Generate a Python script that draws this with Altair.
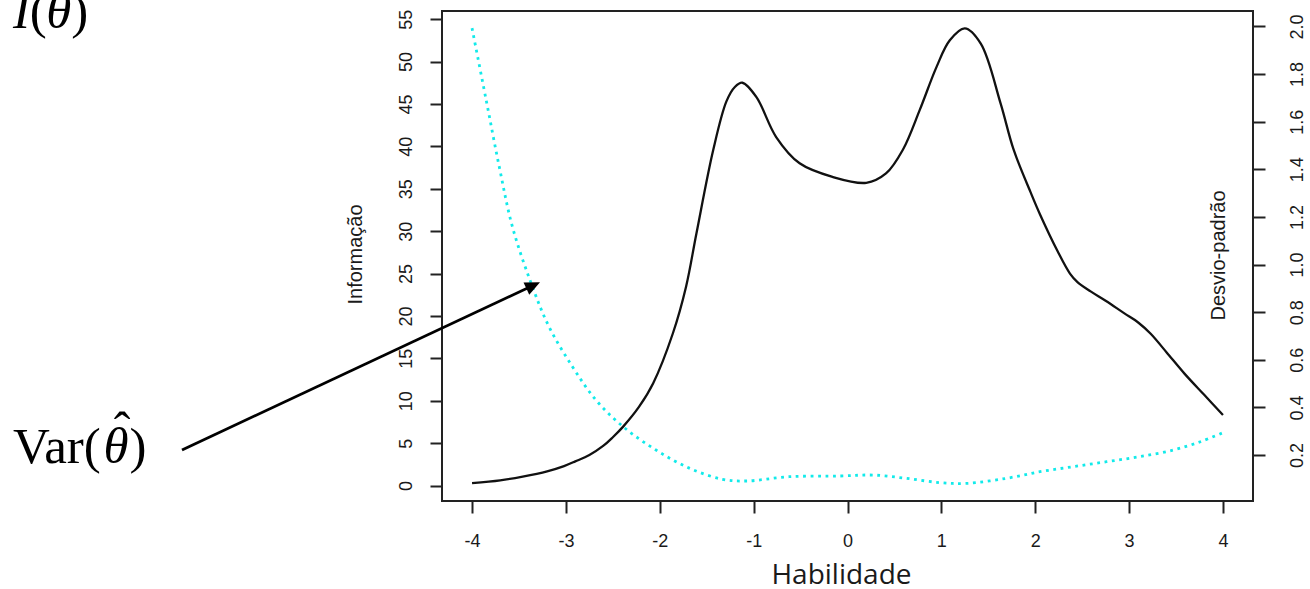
import altair as alt
import pandas as pd

# ---- data ----
theta_info = [-4.0, -3.7, -3.46, -3.2, -3.02, -2.9, -2.75, -2.6, -2.5, -2.39, -2.22, -2.07,
              -1.86, -1.72, -1.61, -1.43, -1.29, -1.2, -1.12, -0.97, -0.76, -0.51, -0.16,
              0.20, 0.41, 0.59, 0.77, 0.95, 1.09, 1.25, 1.42, 1.63, 1.77, 1.95, 2.05,
              2.24, 2.37, 2.45, 2.59, 2.75, 2.95, 3.1, 3.23, 3.4, 3.59, 3.8, 4.0]
info = [0.28, 0.62, 1.06, 1.68, 2.3, 2.85, 3.6, 4.7, 5.7, 6.95, 9.3, 12.07,
        17.96, 23.45, 29.7, 39.6, 45.3, 47.0, 47.5, 45.8, 41.1, 38.0, 36.4,
        35.7, 36.8, 39.6, 44.3, 49.4, 52.5, 53.9, 52.1, 45.1, 39.6, 34.6, 32.0,
        27.6, 25.0, 24.0, 22.9, 21.8, 20.3, 19.2, 17.9, 15.7, 13.2, 10.7, 8.33]

theta_sd = [-4.0, -3.85, -3.71, -3.57, -3.37, -3.18, -2.93, -2.68, -2.39, -2.04,
            -1.68, -1.33, -1.08, -0.62, -0.08, 0.27, 0.63, 0.99, 1.27, 1.69,
            2.05, 2.40, 2.76, 3.11, 3.47, 3.76, 4.0]
sd = [1.993, 1.692, 1.411, 1.159, 0.921, 0.739, 0.571, 0.431, 0.319, 0.221,
      0.144, 0.098, 0.091, 0.109, 0.112, 0.116, 0.102, 0.084, 0.081, 0.102,
      0.130, 0.151, 0.172, 0.193, 0.221, 0.256, 0.294]

x_ticks = [-4, -3, -2, -1, 0, 1, 2, 3, 4]
info_ticks = [0, 5, 10, 15, 20, 25, 30, 35, 40, 45, 50, 55]
sd_ticks = [0.2, 0.4, 0.6, 0.8, 1.0, 1.2, 1.4, 1.6, 1.8, 2.0]

x_domain = [-4.32, 4.32]
info_domain = [-1.82, 55.96]
sd_domain = [0.007, 2.065]

TXT = "#1a1a1a"
SANS = "Liberation Sans"
SERIF = "Liberation Serif"

df_info = pd.DataFrame({"theta": theta_info, "info": info})
df_sd = pd.DataFrame({"theta": theta_sd, "sd": sd})
one = pd.DataFrame({"k": [0]})

x_axis = alt.Axis(values=x_ticks, labelExpr="'' + datum.value", tickSize=12, tickWidth=2,
                  tickColor="#222", labelFont=SANS, labelFontSize=18, labelColor=TXT,
                  labelBaseline="alphabetic", labelAlign="center", labelPadding=33.5,
                  labelFlush=False, labelOverlap=False, domain=False, grid=False,
                  title="Habilidade", titleFont="Open Sans", titleFontSize=28,
                  titleFontWeight="normal", titleColor=TXT, titleX=399, titleY=82,
                  titleAlign="center", titleBaseline="alphabetic")
x_enc = alt.X("theta:Q", scale=alt.Scale(domain=x_domain, nice=False, zero=False), axis=x_axis)

solid = alt.Chart(df_info).mark_line(color="#111", strokeWidth=2.3,
                                     interpolate="catmull-rom").encode(
    x=x_enc,
    y=alt.Y("info:Q", scale=alt.Scale(domain=info_domain, nice=False, zero=False),
            axis=alt.Axis(orient="left", values=info_ticks, tickSize=12, tickWidth=2,
                          tickColor="#222", labelFont=SANS, labelFontSize=18, labelColor=TXT,
                          labelAngle=270, labelAlign="center", labelBaseline="alphabetic",
                          labelPadding=18.2, labelFlush=False, labelOverlap=False,
                          domain=False, grid=False, title="Informação", titleFont=SANS,
                          titleFontSize=20, titleFontWeight="normal", titleColor=TXT,
                          titleAngle=270, titleX=-81, titleY=243, titleAlign="center",
                          titleBaseline="alphabetic")),
)

dotted = alt.Chart(df_sd).mark_line(color="#12eaea", strokeWidth=2.8, strokeDash=[2.8, 4.6],
                                    interpolate="catmull-rom").encode(
    x=x_enc,
    y=alt.Y("sd:Q", scale=alt.Scale(domain=sd_domain, nice=False, zero=False),
            axis=alt.Axis(orient="right", values=sd_ticks, format=".1f", tickSize=12,
                          tickWidth=2, tickColor="#222", labelFont=SANS, labelFontSize=18,
                          labelColor=TXT, labelAngle=270, labelAlign="center",
                          labelBaseline="alphabetic", labelPadding=37, labelFlush=False,
                          labelOverlap=False, domain=False, grid=False,
                          title="Desvio-padrão", titleFont=SANS, titleFontSize=20,
                          titleFontWeight="normal", titleColor=TXT, titleAngle=270,
                          titleX=-28.6, titleY=244, titleAlign="center",
                          titleBaseline="alphabetic")),
)

# ---- annotations (pixel positions relative to plot area) ----
arrow_line = alt.Chart(one).mark_rule(color="black", strokeWidth=2.8).encode(
    x=alt.value(-260), y=alt.value(439), x2=alt.value(91), y2=alt.value(274.5))
arrow_head = alt.Chart(one).mark_point(shape="M0,-1L0.9,1L-0.9,1Z", filled=True, color="black",
                                       opacity=1, size=225, angle=65).encode(
    x=alt.value(91.2), y=alt.value(274.5))


def txt(s, x, y, italic=False, size=50, align="left"):
    kw = dict(align=align, baseline="alphabetic", font=SERIF, fontSize=size, color="black")
    if italic:
        kw["fontStyle"] = "italic"
    return alt.Chart(one).mark_text(**kw).encode(x=alt.value(x), y=alt.value(y), text=alt.value(s))


labels = [
    txt("Var(", -429, 452, size=51),
    txt("θ", -338.5, 452, italic=True, size=51),
    txt(")", -312.4, 452, size=51),
    txt("ˆ", -320, 436, align="center", size=50),
    txt("I", -429, 17, italic=True, size=51),
    txt("(", -412.3, 17, size=51),
    txt("θ", -395.7, 17, italic=True, size=51),
    txt(")", -370.7, 17, size=51),
]

chart = alt.layer(solid, dotted, arrow_line, arrow_head, *labels).resolve_scale(
    y="independent"
).properties(
    width=811, height=490,
    autosize=alt.AutoSizeParams(type="none"),
    padding={"left": 442, "top": 11, "right": 57, "bottom": 88},
    background="white",
).configure_view(stroke="#222", strokeWidth=2)

chart.save("out.html", embed_options={"renderer": "svg", "actions": False})
